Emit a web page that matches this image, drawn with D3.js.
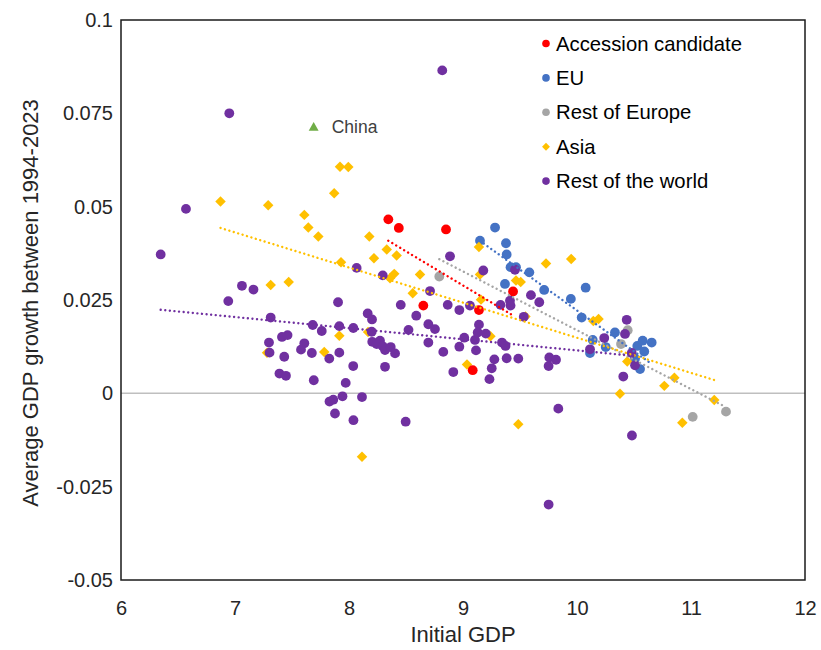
<!DOCTYPE html>
<html>
<head>
<meta charset="utf-8">
<script src="https://cdn.jsdelivr.net/npm/d3@7"></script>
<style>
  html, body { margin: 0; padding: 0; background: #fff; }
  svg { display: block; font-family: "Liberation Sans", Arial, sans-serif; }
</style>
</head>
<body>
<svg id="chart" width="821" height="650"></svg>
<script>
// Axis ticks
const xTicks = [6, 7, 8, 9, 10, 11, 12];
const yTicks = [-0.05, -0.025, 0, 0.025, 0.05, 0.075, 0.1];
const yTickLabels = ["-0.05", "-0.025", "0", "0.025", "0.05", "0.075", "0.1"];

// Series: [initial GDP, average growth 1994-2023]
const accession = [
  [8.345, 0.0466], [8.437, 0.0443], [8.851, 0.0439], [8.652, 0.0235],
  [9.140, 0.0223], [9.439, 0.0273], [9.085, 0.0062]
];
const eu = [
  [9.281, 0.0444], [9.149, 0.0409], [9.377, 0.0402], [9.383, 0.0372],
  [9.417, 0.0338], [9.465, 0.0338], [9.582, 0.0324], [9.368, 0.0293],
  [9.712, 0.0277], [10.076, 0.0283], [9.946, 0.0253], [10.041, 0.0203],
  [10.333, 0.0163], [10.138, 0.0143], [10.252, 0.0124], [10.114, 0.0108],
  [10.529, 0.0127], [10.576, 0.0141], [10.655, 0.0136], [10.590, 0.0112],
  [10.509, 0.0093], [10.553, 0.0065]
];
const restOfEurope = [
  [8.792, 0.0313], [10.445, 0.0169], [10.386, 0.0132], [11.015, -0.0063],
  [11.307, -0.0049]
];
const asia = [
  [6.873, 0.0514], [7.291, 0.0504], [7.608, 0.0478], [7.643, 0.0444],
  [7.731, 0.0420], [7.870, 0.0536], [7.921, 0.0607], [7.994, 0.0606],
  [7.313, 0.0290], [7.471, 0.0298], [7.930, 0.0351], [7.915, 0.0154],
  [7.783, 0.0111], [7.281, 0.0109], [8.167, 0.0164], [8.178, 0.0420],
  [8.331, 0.0385], [8.418, 0.0369], [8.219, 0.0362], [8.360, 0.0308],
  [8.397, 0.0320], [8.623, 0.0318], [8.559, 0.0268], [9.140, 0.0392],
  [9.149, 0.0318], [9.158, 0.0251], [9.241, 0.0153], [9.035, 0.0077],
  [9.728, 0.0348], [9.949, 0.0360], [9.465, 0.0302], [9.506, 0.0298],
  [9.548, 0.0206], [10.143, 0.0194], [10.189, 0.0199], [10.441, 0.0085],
  [10.854, 0.0042], [10.766, 0.0020], [10.377, -0.0001], [11.204, -0.0018],
  [10.924, -0.0079], [9.485, -0.0083], [8.114, -0.0170]
];
const restOfWorld = [
  [6.950, 0.0750], [6.570, 0.0494], [6.348, 0.0372], [8.818, 0.0865],
  [7.061, 0.0288], [7.162, 0.0278], [6.941, 0.0247], [7.313, 0.0203],
  [7.682, 0.0183], [7.761, 0.0167], [7.904, 0.0244], [7.915, 0.0180],
  [8.038, 0.0175], [8.164, 0.0214], [8.202, 0.0198], [8.199, 0.0165],
  [8.454, 0.0237], [8.590, 0.0208], [8.696, 0.0185], [8.754, 0.0172],
  [8.711, 0.0274], [8.696, 0.0136], [7.298, 0.0136], [7.303, 0.0109],
  [7.412, 0.0151], [7.461, 0.0156], [7.432, 0.0098], [7.390, 0.0053],
  [7.447, 0.0047], [7.608, 0.0134], [7.579, 0.0117], [7.674, 0.0108],
  [7.827, 0.0093], [7.915, 0.0109], [7.691, 0.0035], [8.037, 0.0073],
  [7.971, 0.0028], [7.943, -0.0008], [7.862, -0.0017], [7.829, -0.0022],
  [7.877, -0.0054], [8.039, -0.0072], [8.114, -0.0010], [8.497, -0.0076],
  [8.204, 0.0138], [8.272, 0.0141], [8.243, 0.0132], [8.296, 0.0126],
  [8.316, 0.0116], [8.366, 0.0124], [8.404, 0.0107], [8.316, 0.0071],
  [8.522, 0.0170], [8.067, 0.0336], [8.296, 0.0316], [8.886, 0.0367],
  [9.178, 0.0329], [9.456, 0.0331], [9.596, 0.0263], [9.669, 0.0244],
  [9.412, 0.0248], [9.417, 0.0235], [9.329, 0.0237], [9.533, 0.0205],
  [8.866, 0.0237], [8.968, 0.0223], [9.061, 0.0235], [9.140, 0.0184],
  [8.827, 0.0111], [8.968, 0.0125], [9.011, 0.0149], [9.105, 0.0143],
  [9.129, 0.0163], [9.200, 0.0160], [9.114, 0.0115], [9.342, 0.0136],
  [9.373, 0.0127], [9.275, 0.0091], [9.383, 0.0094], [9.485, 0.0093],
  [9.252, 0.0067], [9.232, 0.0038], [8.915, 0.0057], [9.757, 0.0096],
  [9.816, 0.0090], [9.751, 0.0073], [9.836, -0.0041], [9.751, -0.0298],
  [10.436, 0.0197], [10.421, 0.0159], [10.239, 0.0148], [10.114, 0.0118],
  [10.480, 0.0108], [10.509, 0.0075], [10.406, 0.0045], [10.482, -0.0113]
];
const china = [[7.69, 0.0714]];

// Linear trend fits per group: [slope, intercept]
const accessionTrend = [-0.0183, 0.1936];
const euTrend = [-0.0219, 0.2412];
const restOfEuropeTrend = [-0.01576, 0.1745];
const asiaTrend = [-0.009406, 0.10895];
const restOfWorldTrend = [-0.002978, 0.04128];

const seriesNames = ["Accession candidate", "EU", "Rest of Europe", "Asia", "Rest of the world"];
const seriesColors = ["#FF0000", "#4472C4", "#A5A5A5", "#FFC000", "#7030A0"];
const seriesShapes = ["circle", "circle", "circle", "diamond", "circle"];

const series = [
  { name: seriesNames[0], data: accession, trend: accessionTrend, color: seriesColors[0], shape: seriesShapes[0] },
  { name: seriesNames[1], data: eu, trend: euTrend, color: seriesColors[1], shape: seriesShapes[1] },
  { name: seriesNames[2], data: restOfEurope, trend: restOfEuropeTrend, color: seriesColors[2], shape: seriesShapes[2] },
  { name: seriesNames[3], data: asia, trend: asiaTrend, color: seriesColors[3], shape: seriesShapes[3] },
  { name: seriesNames[4], data: restOfWorld, trend: restOfWorldTrend, color: seriesColors[4], shape: seriesShapes[4] }
];

const svg = d3.select("#chart");
const plot = { left: 121, right: 805, top: 20, bottom: 580 };

const x = d3.scaleLinear().domain([6, 12]).range([plot.left, plot.right]);
const y = d3.scaleLinear().domain([-0.05, 0.1]).range([plot.bottom, plot.top]);

const FONT = 20;
const TITLE_FONT = 22;
const TEXT = "#262626";

// Axes (labels only; the frame is drawn separately)
const xAxis = svg.append("g")
  .attr("transform", `translate(0,${plot.bottom})`)
  .call(d3.axisBottom(x).tickValues(xTicks).tickSize(0).tickPadding(21).tickFormat(d3.format("d")));
const yAxis = svg.append("g")
  .attr("transform", `translate(${plot.left},0)`)
  .call(d3.axisLeft(y).tickValues(yTicks).tickSize(0).tickPadding(8)
    .tickFormat((d, i) => yTickLabels[i]));
[xAxis, yAxis].forEach(g => {
  g.select(".domain").remove();
  g.selectAll("text").attr("font-size", FONT).attr("fill", TEXT)
    .attr("font-family", "'Liberation Sans', Arial, sans-serif");
});

// Zero reference line
svg.append("line")
  .attr("x1", plot.left).attr("x2", plot.right)
  .attr("y1", y(0)).attr("y2", y(0))
  .attr("stroke", "#BFBFBF").attr("stroke-width", 1.5);

const diamond = d3.symbol().type(d3.symbolDiamond2).size(70);

function drawMarkers(g, s, r) {
  if (s.shape === "diamond") {
    g.selectAll("path").data(s.data).join("path")
      .attr("d", diamond)
      .attr("transform", d => `translate(${x(d[0])},${y(d[1])})`)
      .attr("fill", s.color);
  } else {
    g.selectAll("circle").data(s.data).join("circle")
      .attr("cx", d => x(d[0])).attr("cy", d => y(d[1]))
      .attr("r", r).attr("fill", s.color);
  }
}

// Markers, stacked so the accession group sits on top
const drawOrder = [1, 2, 3, 4, 0];
drawOrder.forEach(i => {
  drawMarkers(svg.append("g"), series[i], 4.9);
});

// Dotted linear trend lines over each group's x range
const line = d3.line().x(d => x(d[0])).y(d => y(d[1]));
drawOrder.forEach(i => {
  const s = series[i];
  const ext = d3.extent(s.data, d => d[0]);
  const pts = ext.map(v => [v, s.trend[0] * v + s.trend[1]]);
  svg.append("path")
    .attr("d", line(pts))
    .attr("fill", "none")
    .attr("stroke", s.color)
    .attr("stroke-width", 2.4)
    .attr("stroke-linecap", "round")
    .attr("stroke-dasharray", "0.01 4.6");
});

// China point with its label
const chinaG = svg.append("g");
chinaG.selectAll("path").data(china).join("path")
  .attr("d", d3.symbol().type(d3.symbolTriangle2).size(70))
  .attr("transform", d => `translate(${x(d[0])},${y(d[1]) + 1})`)
  .attr("fill", "#70AD47");
chinaG.selectAll("text").data(china).join("text")
  .attr("x", d => x(d[0]) + 18).attr("y", d => y(d[1]))
  .attr("dy", "0.35em")
  .attr("font-size", 17.5).attr("fill", "#404040")
  .text("China");

// Plot frame
svg.append("rect")
  .attr("x", plot.left).attr("y", plot.top)
  .attr("width", plot.right - plot.left).attr("height", plot.bottom - plot.top)
  .attr("fill", "none").attr("stroke", "#1a1a1a").attr("stroke-width", 1.5);

// Legend
const legend = svg.append("g").attr("transform", "translate(546,43.5)");
series.forEach((s, i) => {
  const g = legend.append("g").attr("transform", `translate(0,${i * 34.4})`);
  if (s.shape === "diamond") {
    g.append("path").attr("d", d3.symbol().type(d3.symbolDiamond2).size(40)).attr("fill", s.color);
  } else {
    g.append("circle").attr("r", 3.8).attr("fill", s.color);
  }
  g.append("text").attr("x", 10).attr("dy", "0.35em")
    .attr("font-size", 20.3).attr("fill", "#000").text(s.name);
});

// Axis titles
svg.append("text")
  .attr("x", (plot.left + plot.right) / 2).attr("y", 642)
  .attr("text-anchor", "middle").attr("font-size", TITLE_FONT).attr("fill", TEXT)
  .text("Initial GDP");
svg.append("text")
  .attr("transform", `translate(38,${(plot.top + plot.bottom) / 2 + 3}) rotate(-90)`)
  .attr("text-anchor", "middle").attr("font-size", TITLE_FONT).attr("fill", TEXT)
  .text("Average GDP growth between 1994-2023");
</script>
</body>
</html>
